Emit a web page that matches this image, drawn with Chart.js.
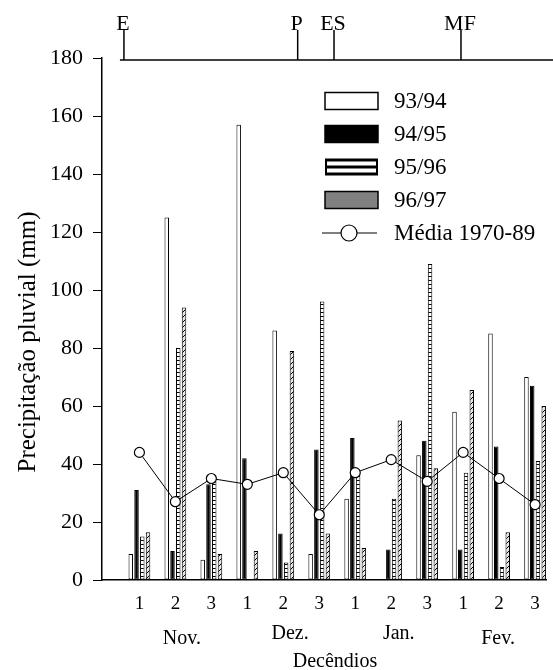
<!DOCTYPE html>
<html><head><meta charset="utf-8">
<script src="https://cdn.jsdelivr.net/npm/chart.js@4/dist/chart.umd.min.js"></script>
<style>html,body{margin:0;padding:0;background:#fff;}canvas{display:block;}</style>
</head><body>
<canvas id="c" width="553" height="670"></canvas>
<script>
// ---- data ----
const decendios = ['1','2','3','1','2','3','1','2','3','1','2','3'];
const months = ['Nov.','Dez.','Jan.','Fev.'];
const s9394 = [9, 125, 7, 157, 86, 9, 28, null, 43, 58, 85, 70];
const s9495 = [31, 10, 33, 42, 16, 45, 49, 10.5, 48, 10.5, 46, 67];
const s9596 = [15, 80, 34, null, 6, 96, 36, 28, 109, 37, 4.5, 41];
const s9697 = [16.5, 94, 9, 10, 79, 16, 11, 55, 38.5, 65.5, 16.5, 60];
const media = [44, 27, 35, 33, 37, 22.5, 37, 41.5, 34, 44, 35, 26];
const stages = ['E', 'P', 'ES', 'MF'];
const stageAt = [0.57, 5.40, 6.41, 9.94];
const yTitle = 'Precipitação pluvial (mm)';
const xTitle = 'Decêndios';

// ---- styling ----
const FONT = "'Liberation Serif','Times New Roman',serif";
function stripePattern(){
  const c = document.createElement('canvas'); c.width = 4; c.height = 4;
  const g = c.getContext('2d');
  g.fillStyle = '#fff'; g.fillRect(0,0,4,4);
  g.fillStyle = '#000'; g.fillRect(0,0,4,1);
  return g.createPattern(c, 'repeat');
}
function hatchPattern(){
  const c = document.createElement('canvas'); c.width = 5; c.height = 5;
  const g = c.getContext('2d');
  g.fillStyle = '#e6e6e6'; g.fillRect(0,0,5,5);
  g.strokeStyle = '#000'; g.lineWidth = 1;
  g.beginPath();
  g.moveTo(-1,6); g.lineTo(6,-1);
  g.moveTo(-1,1); g.lineTo(1,-1);
  g.moveTo(4,6); g.lineTo(6,4);
  g.stroke();
  return g.createPattern(c, 'repeat');
}
const xs = decendios.map((_, i) => i + 1);
const pts = arr => arr.map((v, i) => ({x: xs[i], y: v}));

const barCommon = {type:'bar', borderColor:'#000', borderWidth:1, order:2,
  categoryPercentage:0.64, barPercentage:0.78, borderSkipped:false};

const overlay = {
  id: 'overlay',
  afterDraw(chart){
    const {ctx, scales:{x}} = chart;
    ctx.save();
    ctx.fillStyle = '#000'; ctx.strokeStyle = '#000';
    // stage bar at top
    const yLine = 60;
    const sx = stageAt.map(v => x.getPixelForValue(v));
    ctx.lineWidth = 1.5;
    ctx.beginPath(); ctx.moveTo(sx[0] - 4, yLine); ctx.lineTo(553, yLine); ctx.stroke();
    ctx.font = `22px ${FONT}`; ctx.textAlign = 'center'; ctx.textBaseline = 'alphabetic';
    stages.forEach((s, i) => {
      ctx.beginPath(); ctx.moveTo(sx[i], 30); ctx.lineTo(sx[i], yLine); ctx.stroke();
      ctx.fillText(s, sx[i] - 1, 29.5);
    });
    // legend
    const rows = [101, 134, 167, 200, 233];
    const bx = 325, bw = 53, bh = 17;
    ctx.textAlign = 'left'; ctx.textBaseline = 'middle';
    chart.data.datasets.forEach((ds, i) => {
      const cy = rows[i];
      const top = cy - bh/2;
      ctx.lineWidth = 1;
      if (ds.type === 'line') {
        ctx.beginPath(); ctx.moveTo(bx - 3, cy); ctx.lineTo(bx + bw - 1, cy); ctx.stroke();
        ctx.beginPath(); ctx.arc(bx + 24, cy, 8, 0, Math.PI*2);
        ctx.fillStyle = '#fff'; ctx.fill(); ctx.lineWidth = 1.2; ctx.stroke();
        ctx.fillStyle = '#000';
      } else if (ds.legendKind === 'stripes') {
        ctx.fillStyle = '#000'; ctx.fillRect(bx, top, bw, bh);
        ctx.fillStyle = '#fff';
        ctx.fillRect(bx + 2, top + 3, bw - 4, 4);
        ctx.fillRect(bx + 2, top + 10, bw - 4, 4);
        ctx.fillStyle = '#000';
      } else {
        ctx.fillStyle = ds.legendFill;
        ctx.fillRect(bx, top, bw, bh);
        ctx.lineWidth = 1.5; ctx.strokeRect(bx, top, bw, bh);
        ctx.fillStyle = '#000';
      }
      ctx.font = `23px ${FONT}`;
      ctx.fillText(ds.label, 394, cy + 1);
    });
    // months
    const monthAt = [2.18, 5.19, 8.21, 10.97];
    const monthY = [639, 634, 634, 639];
    ctx.font = `20px ${FONT}`; ctx.textAlign = 'center'; ctx.textBaseline = 'middle';
    months.forEach((m, i) => ctx.fillText(m, x.getPixelForValue(monthAt[i]), monthY[i]));
    ctx.fillText(xTitle, 335, 662);
    // y title
    ctx.save();
    ctx.translate(28, 342); ctx.rotate(-Math.PI/2);
    ctx.font = `25px ${FONT}`;
    ctx.fillText(yTitle, 0, 0);
    ctx.restore();
    ctx.restore();
  }
};

new Chart(document.getElementById('c'), {
  type: 'bar',
  data: {
    datasets: [
      Object.assign({}, barCommon, {label:'93/94', data: pts(s9394), backgroundColor:'#fff', legendFill:'#fff'}),
      Object.assign({}, barCommon, {label:'94/95', data: pts(s9495), backgroundColor:'#000', legendFill:'#000'}),
      Object.assign({}, barCommon, {label:'95/96', data: pts(s9596), backgroundColor: stripePattern(), legendKind:'stripes'}),
      Object.assign({}, barCommon, {label:'96/97', data: pts(s9697), backgroundColor: hatchPattern(), legendFill:'#808080'}),
      {type:'line', label:'Média 1970-89', data: pts(media), borderColor:'#000', borderWidth:1,
       pointRadius:5, pointBackgroundColor:'#fff', pointBorderColor:'#000', pointBorderWidth:1.2,
       tension:0, order:0, fill:false}
    ]
  },
  options: {
    responsive: false, animation: false, devicePixelRatio: 1,
    layout: {padding: {left: 0, right: 0, top: 58, bottom: 50}},
    plugins: {legend: {display: false}, tooltip: {enabled: false}},
    scales: {
      x: {
        type: 'linear', min: -0.04, max: 12.32, offset: false,
        grid: {display: false, drawTicks: false},
        border: {display: true, color: '#000', width: 1.5},
        afterBuildTicks: s => { s.ticks = xs.map(v => ({value: v})); },
        afterFit: s => { s.height = 40; },
        ticks: {font: {family: FONT, size: 19}, color: '#000', padding: 13, maxRotation: 0, autoSkip: false,
          callback: v => decendios[v - 1] || ''}
      },
      y: {
        min: 0, max: 180,
        grid: {display: true, drawOnChartArea: false, drawTicks: true, tickLength: 9, color: '#000', lineWidth: 1},
        border: {display: true, color: '#000', width: 1.5},
        afterFit: s => { s.width = 102; },
        ticks: {stepSize: 20, font: {family: FONT, size: 22}, color: '#000', padding: 10}
      }
    }
  },
  plugins: [overlay]
});
</script>
</body></html>
